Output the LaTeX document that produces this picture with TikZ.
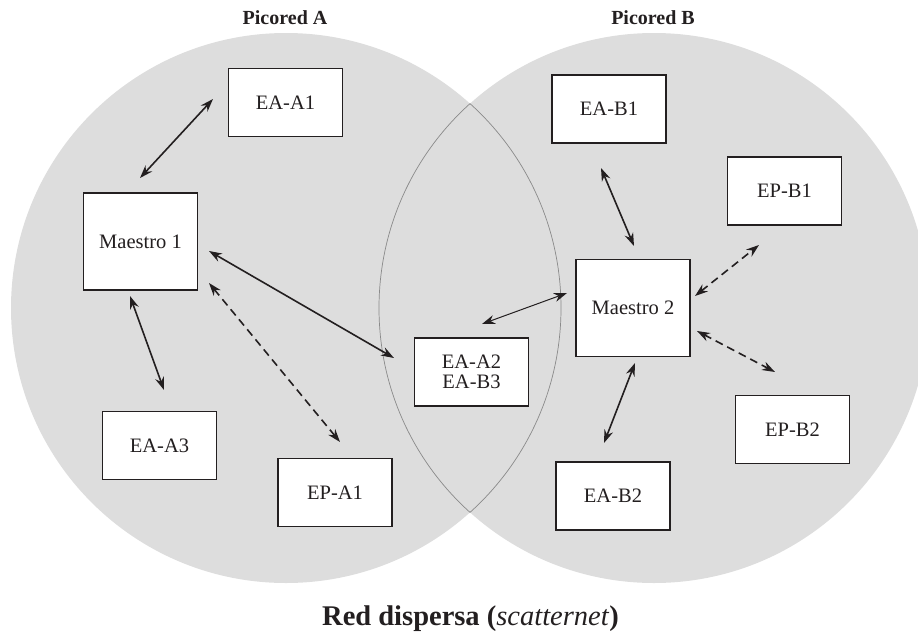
\documentclass[tikz,border=0pt]{standalone}
\usepackage{fontspec}
\setmainfont{Liberation Serif}
\usetikzlibrary{arrows.meta}
\definecolor{cellfill}{HTML}{DDDDDD}
\definecolor{ink}{HTML}{231F20}
\definecolor{lensline}{HTML}{8A8A8A}
\begin{document}
\begin{tikzpicture}[x=1pt,y=-1pt,
  device/.style={draw=ink, line width=1.5pt, fill=white, minimum width=114pt,
    minimum height=68pt, inner sep=0pt, text=ink, align=center,
    font=\fontsize{20.5}{20}\selectfont},
  master/.style={device, minimum height=97pt},
  link/.style={draw=ink, line width=1.6pt,
    {Stealth[length=13pt,width=9pt]}-{Stealth[length=13pt,width=9pt]}},
  thinlink/.style={link, line width=1pt},
  plink/.style={link, dash pattern=on 8pt off 5pt},
  title/.style={font=\fontsize{20}{20}\selectfont\bfseries, text=ink, anchor=base}]
\useasboundingbox (0,0) rectangle (918,632);
\clip (0,0) rectangle (918,632);

% the two piconets
\fill[cellfill] (286,308) circle[radius=275];
\fill[cellfill] (654,308) circle[radius=275];
\begin{scope}
  \clip (286,308) circle[radius=275];
  \draw[lensline, line width=0.7pt] (654,308) circle[radius=275];
\end{scope}
\begin{scope}
  \clip (654,308) circle[radius=275];
  \draw[lensline, line width=0.7pt] (286,308) circle[radius=275];
\end{scope}

% titles
\node[title] (tA) at (285,24) {Picored A};
\node[title] (tB) at (653,24) {Picored B};
\node[title, font=\fontsize{28.5}{28.5}\selectfont\bfseries] (cap) at (470.5,625)
  {Red dispersa (\textit{\mdseries scatternet})};

% devices
\node[device] (ea1) at (285.5,102.5) {EA-A1};
\node[master] (m1)  at (140.5,241.5) {Maestro 1};
\node[device] (ea3) at (159.5,445.5) {EA-A3};
\node[device] (epa1) at (335,492.5) {EP-A1};
\node[device] (ea2) at (471.5,372) {EA-A2\\EA-B3};
\node[device] (eb1) at (609,109) {EA-B1};
\node[device] (epb1) at (784.5,191) {EP-B1};
\node[master] (m2)  at (633,308) {Maestro 2};
\node[device] (epb2) at (792.5,429.5) {EP-B2};
\node[device] (eb2) at (613,496) {EA-B2};

% link end points
\coordinate (l1a) at (213,99);  \coordinate (l1b) at (140,178);
\coordinate (l2a) at (130,296); \coordinate (l2b) at (164,390);
\coordinate (l3a) at (209,251); \coordinate (l3b) at (394,358);
\coordinate (l4a) at (209,283); \coordinate (l4b) at (340,442);
\coordinate (l5a) at (482,324); \coordinate (l5b) at (567,293);
\coordinate (l6a) at (601,168); \coordinate (l6b) at (634,246);
\coordinate (l7a) at (695,296); \coordinate (l7b) at (759,245);
\coordinate (l8a) at (635,363); \coordinate (l8b) at (604,443);
\coordinate (l9a) at (697,331); \coordinate (l9b) at (775,372);

% links
\draw[link] (l1a) -- (l1b);
\draw[link] (l2a) -- (l2b);
\draw[link] (l3a) -- (l3b);
\draw[plink] (l4a) -- (l4b);
\draw[thinlink] (l5a) -- (l5b);
\draw[link] (l6a) -- (l6b);
\draw[plink] (l7a) -- (l7b);
\draw[link] (l8a) -- (l8b);
\draw[plink] (l9a) -- (l9b);
\end{tikzpicture}
\end{document}
